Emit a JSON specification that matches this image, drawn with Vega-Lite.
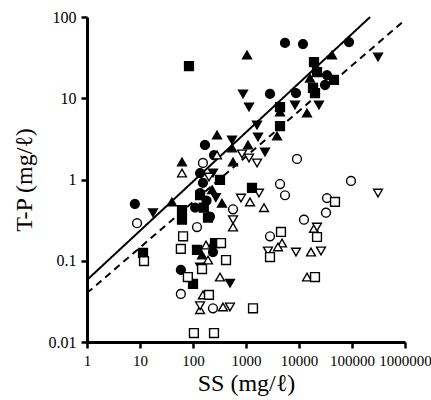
{
  "$schema": "https://vega.github.io/schema/vega-lite/v6.json",
  "autosize": "none",
  "padding": {"left": 87, "top": 17, "right": 26, "bottom": 58},
  "width": 318,
  "height": 325,
  "background": "white",
  "config": {
    "view": {"stroke": null},
    "font": "Liberation Serif",
    "axis": {
      "grid": false,
      "domainColor": "black",
      "domainWidth": 3,
      "tickColor": "black",
      "tickWidth": 2.5,
      "tickSize": 6,
      "labelFont": "Liberation Serif",
      "labelFontSize": 15.5,
      "labelColor": "black",
      "labelPadding": 5,
      "labelFlush": false,
      "labelOverlap": false,
      "titleFont": "Liberation Serif",
      "titleFontSize": 24,
      "titleFontWeight": "normal",
      "titleColor": "black"
    }
  },
  "layer": [
    {
      "data": {"values": [
        {"x": 1, "y": 0.058, "kind": "solid"},
        {"x": 220000, "y": 100, "kind": "solid"},
        {"x": 1, "y": 0.040, "kind": "dashed"},
        {"x": 1000000, "y": 92, "kind": "dashed"}
      ]},
      "mark": {"type": "line", "color": "black", "strokeWidth": 2},
      "encoding": {
        "x": {"field": "x", "type": "quantitative", "scale": {"type": "log", "domain": [1, 1000000]},
              "axis": {"values": [1, 10, 100, 1000, 10000, 100000, 1000000], "format": "d", "title": "SS (mg/ℓ)", "titlePadding": 3, "labelFontSize": 15}},
        "y": {"field": "y", "type": "quantitative", "scale": {"type": "log", "domain": [0.01, 100]},
              "axis": {"values": [0.01, 0.1, 1, 10, 100], "format": "~g", "title": "T-P (mg/ℓ)", "titlePadding": 12, "labelFontSize": 16}},
        "detail": {"field": "kind"},
        "strokeDash": {"field": "kind", "type": "nominal", "scale": {"domain": ["solid", "dashed"], "range": [[1, 0], [7, 5]]}, "legend": null}
      }
    },
    {
      "data": {"values": [
        {"x": 8.0, "y": 0.50, "sym": "circle", "fill": "filled"},
        {"x": 59, "y": 0.077, "sym": "circle", "fill": "filled"},
        {"x": 168, "y": 2.66, "sym": "circle", "fill": "filled"},
        {"x": 249, "y": 2.0, "sym": "circle", "fill": "filled"},
        {"x": 136, "y": 1.2, "sym": "circle", "fill": "filled"},
        {"x": 136, "y": 0.68, "sym": "circle", "fill": "filled"},
        {"x": 154, "y": 0.91, "sym": "circle", "fill": "filled"},
        {"x": 209, "y": 0.35, "sym": "circle", "fill": "filled"},
        {"x": 238, "y": 0.128, "sym": "circle", "fill": "filled"},
        {"x": 2837, "y": 11.3, "sym": "circle", "fill": "filled"},
        {"x": 5445, "y": 47.9, "sym": "circle", "fill": "filled"},
        {"x": 11890, "y": 46.5, "sym": "circle", "fill": "filled"},
        {"x": 87800, "y": 49.2, "sym": "circle", "fill": "filled"},
        {"x": 33730, "y": 19.3, "sym": "circle", "fill": "filled"},
        {"x": 30970, "y": 14.6, "sym": "circle", "fill": "filled"},
        {"x": 8775, "y": 11.6, "sym": "circle", "fill": "filled"},
        {"x": 180, "y": 0.55, "sym": "circle", "fill": "filled"},
        {"x": 110, "y": 0.45, "sym": "circle", "fill": "filled"},

        {"x": 8.8, "y": 0.29, "sym": "circle", "fill": "open"},
        {"x": 119, "y": 0.26, "sym": "circle", "fill": "open"},
        {"x": 59, "y": 0.039, "sym": "circle", "fill": "open"},
        {"x": 238, "y": 0.026, "sym": "circle", "fill": "open"},
        {"x": 154, "y": 1.6, "sym": "circle", "fill": "open"},
        {"x": 569, "y": 0.43, "sym": "circle", "fill": "open"},
        {"x": 9160, "y": 1.79, "sym": "circle", "fill": "open"},
        {"x": 4383, "y": 0.88, "sym": "circle", "fill": "open"},
        {"x": 5445, "y": 0.64, "sym": "circle", "fill": "open"},
        {"x": 95700, "y": 0.96, "sym": "circle", "fill": "open"},
        {"x": 33730, "y": 0.59, "sym": "circle", "fill": "open"},
        {"x": 32300, "y": 0.39, "sym": "circle", "fill": "open"},
        {"x": 12410, "y": 0.32, "sym": "circle", "fill": "open"},
        {"x": 2837, "y": 0.2, "sym": "circle", "fill": "open"},

        {"x": 40, "y": 0.53, "sym": "triangle-up", "fill": "filled"},
        {"x": 62, "y": 1.64, "sym": "triangle-up", "fill": "filled"},
        {"x": 284, "y": 3.53, "sym": "triangle-up", "fill": "filled"},
        {"x": 545, "y": 2.44, "sym": "triangle-up", "fill": "filled"},
        {"x": 1091, "y": 2.66, "sym": "triangle-up", "fill": "filled"},
        {"x": 1045, "y": 34.1, "sym": "triangle-up", "fill": "filled"},
        {"x": 41980, "y": 34.1, "sym": "triangle-up", "fill": "filled"},
        {"x": 16140, "y": 17.7, "sym": "triangle-up", "fill": "filled"},
        {"x": 4383, "y": 6.78, "sym": "triangle-up", "fill": "filled"},
        {"x": 14150, "y": 6.58, "sym": "triangle-up", "fill": "filled"},
        {"x": 3846, "y": 3.43, "sym": "triangle-up", "fill": "filled"},
        {"x": 569, "y": 1.64, "sym": "triangle-up", "fill": "filled"},
        {"x": 352, "y": 0.51, "sym": "triangle-up", "fill": "filled"},
        {"x": 148, "y": 0.118, "sym": "triangle-up", "fill": "filled"},
        {"x": 230, "y": 0.75, "sym": "triangle-up", "fill": "filled"},

        {"x": 62, "y": 1.2, "sym": "triangle-up", "fill": "open"},
        {"x": 284, "y": 2.0, "sym": "triangle-up", "fill": "open"},
        {"x": 1189, "y": 0.53, "sym": "triangle-up", "fill": "open"},
        {"x": 2187, "y": 0.45, "sym": "triangle-up", "fill": "open"},
        {"x": 569, "y": 0.26, "sym": "triangle-up", "fill": "open"},
        {"x": 176, "y": 0.156, "sym": "triangle-up", "fill": "open"},
        {"x": 238, "y": 0.165, "sym": "triangle-up", "fill": "open"},
        {"x": 192, "y": 0.102, "sym": "triangle-up", "fill": "open"},
        {"x": 323, "y": 0.063, "sym": "triangle-up", "fill": "open"},
        {"x": 154, "y": 0.038, "sym": "triangle-up", "fill": "open"},
        {"x": 136, "y": 0.025, "sym": "triangle-up", "fill": "open"},
        {"x": 368, "y": 0.027, "sym": "triangle-up", "fill": "open"},
        {"x": 4775, "y": 0.165, "sym": "triangle-up", "fill": "open"},
        {"x": 4018, "y": 0.148, "sym": "triangle-up", "fill": "open"},
        {"x": 19180, "y": 0.25, "sym": "triangle-up", "fill": "open"},
        {"x": 16840, "y": 0.128, "sym": "triangle-up", "fill": "open"},
        {"x": 14150, "y": 0.063, "sym": "triangle-up", "fill": "open"},

        {"x": 17.6, "y": 0.39, "sym": "triangle-down", "fill": "filled"},
        {"x": 878, "y": 11.3, "sym": "triangle-down", "fill": "filled"},
        {"x": 1140, "y": 7.8, "sym": "triangle-down", "fill": "filled"},
        {"x": 1614, "y": 4.69, "sym": "triangle-down", "fill": "filled"},
        {"x": 1684, "y": 3.33, "sym": "triangle-down", "fill": "filled"},
        {"x": 545, "y": 3.06, "sym": "triangle-down", "fill": "filled"},
        {"x": 2282, "y": 2.18, "sym": "triangle-down", "fill": "filled"},
        {"x": 8406, "y": 8.26, "sym": "triangle-down", "fill": "filled"},
        {"x": 23840, "y": 8.26, "sym": "triangle-down", "fill": "filled"},
        {"x": 309700, "y": 32.2, "sym": "triangle-down", "fill": "filled"},
        {"x": 238, "y": 1.2, "sym": "triangle-down", "fill": "filled"},
        {"x": 136, "y": 0.084, "sym": "triangle-down", "fill": "filled"},
        {"x": 499, "y": 0.053, "sym": "triangle-down", "fill": "filled"},
        {"x": 270, "y": 0.6, "sym": "triangle-down", "fill": "filled"},

        {"x": 200, "y": 1.07, "sym": "triangle-down", "fill": "open"},
        {"x": 841, "y": 2.06, "sym": "triangle-down", "fill": "open"},
        {"x": 1140, "y": 1.84, "sym": "triangle-down", "fill": "open"},
        {"x": 1614, "y": 1.6, "sym": "triangle-down", "fill": "open"},
        {"x": 1758, "y": 0.68, "sym": "triangle-down", "fill": "open"},
        {"x": 805, "y": 0.59, "sym": "triangle-down", "fill": "open"},
        {"x": 569, "y": 0.32, "sym": "triangle-down", "fill": "open"},
        {"x": 309700, "y": 0.68, "sym": "triangle-down", "fill": "open"},
        {"x": 21870, "y": 0.26, "sym": "triangle-down", "fill": "open"},
        {"x": 2600, "y": 0.132, "sym": "triangle-down", "fill": "open"},
        {"x": 8775, "y": 0.128, "sym": "triangle-down", "fill": "open"},
        {"x": 26010, "y": 0.132, "sym": "triangle-down", "fill": "open"},
        {"x": 136, "y": 0.028, "sym": "triangle-down", "fill": "open"},
        {"x": 499, "y": 0.027, "sym": "triangle-down", "fill": "open"},

        {"x": 84, "y": 24.9, "sym": "square", "fill": "filled"},
        {"x": 62, "y": 0.42, "sym": "square", "fill": "filled"},
        {"x": 62, "y": 0.32, "sym": "square", "fill": "filled"},
        {"x": 136, "y": 0.64, "sym": "square", "fill": "filled"},
        {"x": 11.4, "y": 0.125, "sym": "square", "fill": "filled"},
        {"x": 119, "y": 0.136, "sym": "square", "fill": "filled"},
        {"x": 100, "y": 0.052, "sym": "square", "fill": "filled"},
        {"x": 260, "y": 0.165, "sym": "square", "fill": "filled"},
        {"x": 323, "y": 0.99, "sym": "square", "fill": "filled"},
        {"x": 1297, "y": 0.79, "sym": "square", "fill": "filled"},
        {"x": 4383, "y": 7.8, "sym": "square", "fill": "filled"},
        {"x": 4383, "y": 4.55, "sym": "square", "fill": "filled"},
        {"x": 19180, "y": 27.9, "sym": "square", "fill": "filled"},
        {"x": 21870, "y": 21.0, "sym": "square", "fill": "filled"},
        {"x": 45710, "y": 16.8, "sym": "square", "fill": "filled"},
        {"x": 18370, "y": 13.4, "sym": "square", "fill": "filled"},
        {"x": 20030, "y": 11.6, "sym": "square", "fill": "filled"},
        {"x": 192, "y": 0.34, "sym": "square", "fill": "filled"},
        {"x": 160, "y": 0.45, "sym": "square", "fill": "filled"},

        {"x": 11.9, "y": 0.099, "sym": "square", "fill": "open"},
        {"x": 65, "y": 0.2, "sym": "square", "fill": "open"},
        {"x": 59, "y": 0.14, "sym": "square", "fill": "open"},
        {"x": 148, "y": 0.079, "sym": "square", "fill": "open"},
        {"x": 80, "y": 0.063, "sym": "square", "fill": "open"},
        {"x": 200, "y": 0.038, "sym": "square", "fill": "open"},
        {"x": 104, "y": 0.0129, "sym": "square", "fill": "open"},
        {"x": 249, "y": 0.0129, "sym": "square", "fill": "open"},
        {"x": 338, "y": 0.165, "sym": "square", "fill": "open"},
        {"x": 420, "y": 0.102, "sym": "square", "fill": "open"},
        {"x": 1355, "y": 0.026, "sym": "square", "fill": "open"},
        {"x": 4575, "y": 0.226, "sym": "square", "fill": "open"},
        {"x": 2837, "y": 0.111, "sym": "square", "fill": "open"},
        {"x": 47750, "y": 0.53, "sym": "square", "fill": "open"},
        {"x": 21870, "y": 0.196, "sym": "square", "fill": "open"},
        {"x": 20030, "y": 0.063, "sym": "square", "fill": "open"}
      ]},
      "mark": {"type": "point", "filled": true, "stroke": "black", "strokeWidth": 1.4, "size": 78, "opacity": 1, "fillOpacity": 1, "strokeOpacity": 1},
      "encoding": {
        "x": {"field": "x", "type": "quantitative"},
        "y": {"field": "y", "type": "quantitative"},
        "shape": {"field": "sym", "type": "nominal", "scale": {"domain": ["circle", "triangle-up", "triangle-down", "square"], "range": ["circle", "triangle-up", "triangle-down", "square"]}, "legend": null},
        "fill": {"field": "fill", "type": "nominal", "scale": {"domain": ["filled", "open"], "range": ["black", "white"]}, "legend": null}
      }
    }
  ]
}
